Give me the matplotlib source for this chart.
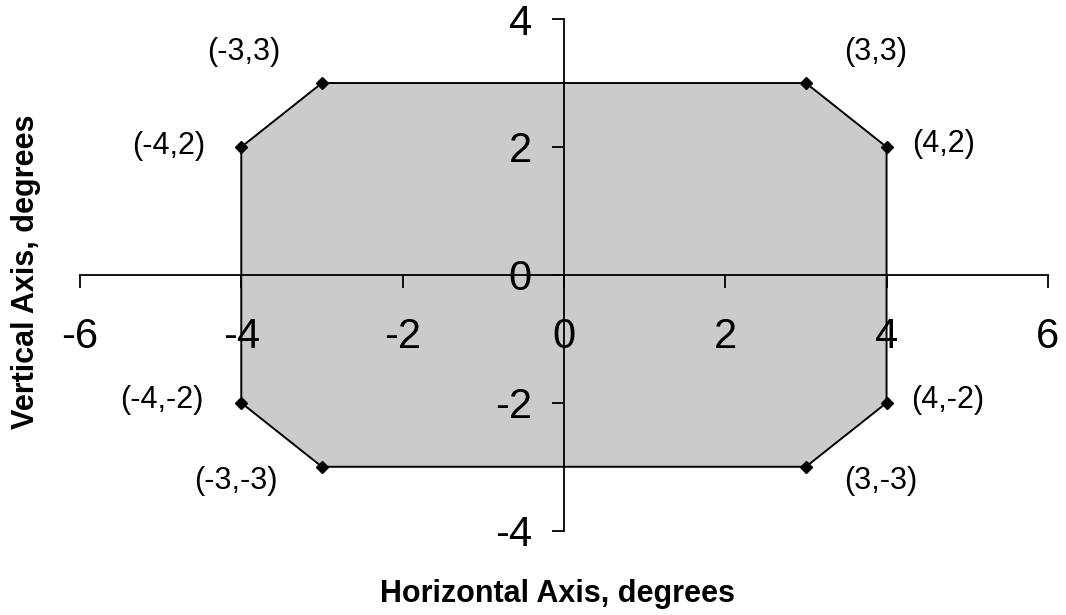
import matplotlib.pyplot as plt

plt.rcParams['font.family'] = ['Liberation Sans', 'DejaVu Sans']

# polygon corners (degrees)
xs = [-3, 3, 4, 4, 3, -3, -4, -4]
ys = [3, 3, 2, -2, -3, -3, -2, 2]
labels = ['(-3,3)', '(3,3)', '(4,2)', '(4,-2)', '(3,-3)', '(-3,-3)', '(-4,-2)', '(-4,2)']
# label offsets in points
offsets = [(-56, 22), (50, 22), (41, 2), (44, 2), (54, -10), (-62, -10), (-57, 2), (-52, 1)]

x_ticks = [-6, -4, -2, 0, 2, 4, 6]
y_ticks = [-4, -2, 0, 2, 4]

fig = plt.figure(figsize=(10.66, 6.15), dpi=100)
ax = fig.add_axes([0.075, 0.137, 0.908, 0.832])

ax.fill(xs, ys, facecolor='#cbcbcb', edgecolor='none', zorder=1)
ax.plot(xs + xs[:1], ys + ys[:1], color='black', lw=1.4, zorder=3)
ax.plot(xs, ys, 'D', color='black', ms=6, zorder=4)

for x, y, t, off in zip(xs, ys, labels, offsets):
    ax.annotate(t, (x, y), xytext=off, textcoords='offset points',
                ha='center', va='center', fontsize=22)

ax.set_xlim(-6, 6)
ax.set_ylim(-4, 4)
ax.spines['left'].set_position('zero')
ax.spines['bottom'].set_position('zero')
ax.spines['top'].set_visible(False)
ax.spines['right'].set_visible(False)
for s in ('left', 'bottom'):
    ax.spines[s].set_linewidth(1.3)
    ax.spines[s].set_zorder(2)

ax.set_xticks(x_ticks)
ax.set_yticks(y_ticks)
ax.set_xticklabels([str(v) for v in x_ticks])
ax.set_yticklabels([str(v) for v in y_ticks])
ax.tick_params(axis='x', direction='out', length=9, width=1.3, pad=21, labelsize=30)
ax.tick_params(axis='y', direction='out', length=9, width=1.3, pad=14, labelsize=30)
ax.patch.set_visible(False)

fig.text(0.523, 0.021, 'Horizontal Axis, degrees', ha='center', va='baseline',
         fontsize=22, fontweight='bold')
fig.text(0.024, 0.558, 'Vertical Axis, degrees', ha='center', va='center',
         rotation=90, fontsize=22, fontweight='bold')

fig.savefig('out.png', dpi=100)
